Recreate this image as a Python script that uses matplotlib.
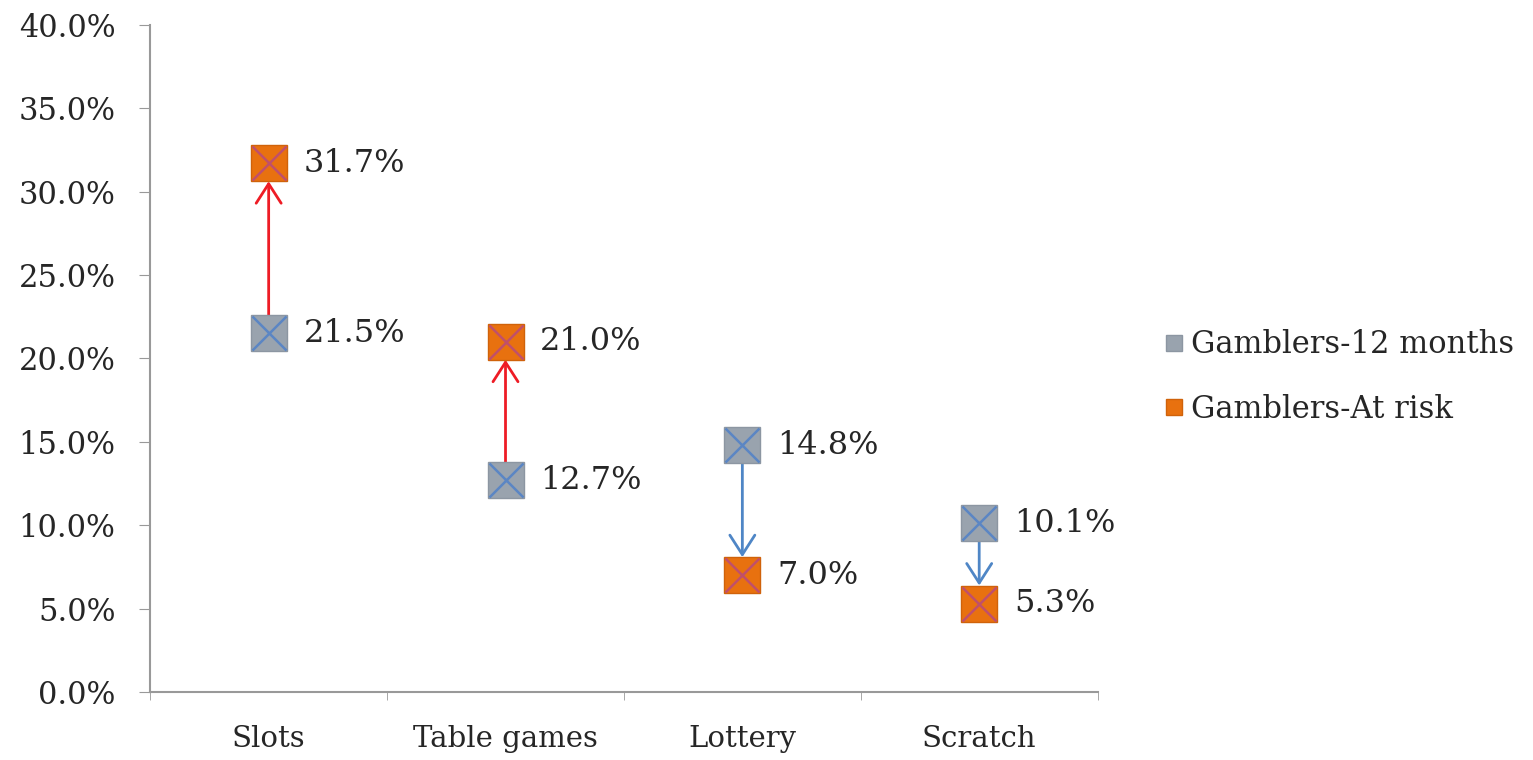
import numpy as np
import matplotlib.pyplot as plt

categories = ["Slots", "Table games", "Lottery", "Scratch"]
gamblers_12m = [21.5, 12.7, 14.8, 10.1]
gamblers_risk = [31.7, 21.0, 7.0, 5.3]
yticks = [0, 5, 10, 15, 20, 25, 30, 35, 40]

plt.rcParams['font.family'] = ['DejaVu Serif']

fig = plt.figure(figsize=(15.33, 7.6), dpi=100)
ax = fig.add_axes([0.098, 0.0895, 0.618, 0.878])

x = np.arange(len(categories))
grey = '#99a3ae'
orange = '#e8710f'
txt = '#262626'

# arrows from 12 months to at risk
for xi, a, b in zip(x, gamblers_12m, gamblers_risk):
    col = '#ee1c25' if b > a else '#4f86c6'
    ax.annotate('', xy=(xi, b), xytext=(xi, a),
                arrowprops=dict(arrowstyle='->,head_length=1.4,head_width=0.9',
                                color=col, lw=2, shrinkA=13, shrinkB=13))

ax.plot(x, gamblers_12m, ls='none', marker='s', ms=26, mfc=grey, mec='#8c96a2',
        label='Gamblers-12 months', zorder=3)
ax.plot(x, gamblers_12m, ls='none', marker='x', ms=24, mew=1.8, color='#5b86c4', zorder=4)
ax.plot(x, gamblers_risk, ls='none', marker='s', ms=26, mfc=orange, mec='#d0620a',
        label='Gamblers-At risk', zorder=3)
ax.plot(x, gamblers_risk, ls='none', marker='x', ms=24, mew=1.8, color='#c0506a', zorder=4)

for xi, a, b in zip(x, gamblers_12m, gamblers_risk):
    for v in (a, b):
        ax.annotate(f'{v:.1f}%', (xi, v), xytext=(25, 0), textcoords='offset points',
                    va='center', ha='left', fontsize=23, color=txt)

ax.set_xlim(-0.5, 3.5)
ax.set_ylim(0, 40)
ax.set_yticks(yticks)
ax.set_yticklabels([f'{t:.1f}%' for t in yticks])
ax.set_xticks(x)
ax.set_xticklabels(categories)
ax.set_xticks([-0.5, 0.5, 1.5, 2.5, 3.5], minor=True)
ax.tick_params(axis='x', which='major', length=0, pad=24, labelsize=21, labelcolor=txt)
ax.tick_params(axis='x', which='minor', length=6, color='#999999')
ax.tick_params(axis='y', length=8, color='#999999', labelsize=22, pad=17, labelcolor=txt)
for s in ['top', 'right']:
    ax.spines[s].set_visible(False)
for s in ['left', 'bottom']:
    ax.spines[s].set_color('#999999')
    ax.spines[s].set_linewidth(1.5)

leg = ax.legend(loc='center left', bbox_to_anchor=(1.06, 0.472), frameon=False,
                fontsize=22, markerscale=0.45, handlelength=0.5, handletextpad=0.3,
                labelspacing=1.1, borderaxespad=0)
for t in leg.get_texts():
    t.set_color(txt)

fig.savefig('out.png', dpi=100)
